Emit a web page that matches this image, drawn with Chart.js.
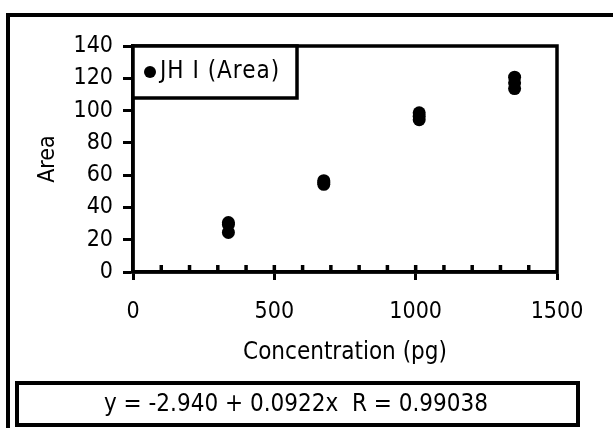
<!DOCTYPE html>
<html lang="en">
<head>
  <meta charset="UTF-8" />
  <title>JH I (Area) calibration</title>
  <script src="https://cdn.jsdelivr.net/npm/chart.js"></script>
  <style>
    body {
      margin: 0;
      padding: 0;
      background: white;
    }
    #wrap {
      width: 613px;
      height: 428px;
    }
  </style>
</head>
<body>

  <div id="wrap"><canvas id="jhChart" width="613" height="428"></canvas></div>

  <script>
    // data (three replicates per level)
    const concentration = [337.5, 337.5, 337.5, 675, 675, 675, 1012.5, 1012.5, 1012.5, 1350, 1350, 1350];
    const area = [30.6, 29.5, 24.5, 56.6, 55.5, 54.3, 98.6, 96.5, 94.3, 120.7, 117.2, 113.6];
    const seriesLabel = 'JH I (Area)';
    const xTitle = 'Concentration (pg)';
    const yTitle = 'Area';
    const fitText = 'y = -2.940 + 0.0922x  R = 0.99038';

    const FONT = '"DejaVu Sans Condensed", "DejaVu Sans", sans-serif';
    const tickSize = 23;
    const textSize = 24;

    // frame, plot box, inner ticks, legend and fit box
    const extras = {
      id: 'extras',
      beforeDraw(chart) {
        const c = chart.ctx;
        c.save();
        c.strokeStyle = 'black';
        c.lineWidth = 4;
        c.strokeRect(8, 15, 700, 500);
        c.restore();
      },
      afterDraw(chart) {
        const c = chart.ctx;
        const a = chart.chartArea;
        const xs = chart.scales.x;
        c.save();
        c.strokeStyle = 'black';
        c.lineWidth = 3.5;
        c.strokeRect(a.left, a.top, a.right - a.left, a.bottom - a.top);

        // minor ticks inside the plot
        for (let v = 100; v < xs.max; v += 100) {
          const px = xs.getPixelForValue(v);
          c.beginPath();
          c.moveTo(px, a.bottom);
          c.lineTo(px, a.bottom - 7);
          c.stroke();
        }

        // legend box
        c.fillStyle = 'white';
        c.fillRect(a.left, a.top, 164, 52);
        c.strokeRect(a.left, a.top, 164, 52);
        c.fillStyle = 'black';
        c.beginPath();
        c.arc(a.left + 17, a.top + 26, 6, 0, Math.PI * 2);
        c.fill();
        c.font = textSize + 'px ' + FONT;
        c.textBaseline = 'middle';
        c.textAlign = 'left';
        c.letterSpacing = '1px';
        c.fillText(seriesLabel, a.left + 27, a.top + 26);
        c.letterSpacing = '0px';

        // regression box
        c.lineWidth = 4;
        c.fillStyle = 'white';
        c.fillRect(17, 383, 561, 42);
        c.strokeRect(17, 383, 561, 42);
        c.fillStyle = 'black';
        c.textAlign = 'center';
        c.fillText(fitText, 296, 405);
        c.restore();
      }
    };

    const ctx = document.getElementById('jhChart').getContext('2d');
    const chart = new Chart(ctx, {
      type: 'scatter',
      data: {
        datasets: [{
          label: seriesLabel,
          data: concentration.map((x, i) => ({ x: x, y: area[i] })),
          backgroundColor: 'black',
          borderColor: 'black',
          pointRadius: 6.5,
          pointBorderWidth: 0
        }]
      },
      options: {
        responsive: false,
        animation: false,
        layout: {
          padding: { left: 0, top: 46, right: 56, bottom: 56 }
        },
        plugins: {
          legend: { display: false },
          tooltip: { enabled: false }
        },
        scales: {
          x: {
            type: 'linear',
            min: 0,
            max: 1500,
            afterFit: (s) => { s.height = 100; },
            ticks: {
              stepSize: 500,
              color: 'black',
              padding: 18,
              maxRotation: 0,
              callback: (v) => String(v),
              font: { family: FONT, size: tickSize }
            },
            grid: {
              drawOnChartArea: false,
              tickLength: 8,
              tickWidth: 3,
              tickColor: 'black'
            },
            border: { color: 'black', width: 3.5 },
            title: {
              display: true,
              text: xTitle,
              color: 'black',
              padding: { top: 0, bottom: 5 },
              font: { family: FONT, size: textSize }
            }
          },
          y: {
            min: 0,
            max: 140,
            afterFit: (s) => { s.width = 133; },
            ticks: {
              stepSize: 20,
              color: 'black',
              padding: 10,
              callback: (v) => String(v),
              font: { family: FONT, size: tickSize }
            },
            grid: {
              drawOnChartArea: false,
              tickLength: 10,
              tickWidth: 3,
              tickColor: 'black'
            },
            border: { color: 'black', width: 3.5 },
            title: {
              display: true,
              text: yTitle,
              color: 'black',
              padding: { top: 34, bottom: 0 },
              font: { family: FONT, size: tickSize }
            }
          }
        }
      },
      plugins: [extras]
    });
  </script>
</body>
</html>
